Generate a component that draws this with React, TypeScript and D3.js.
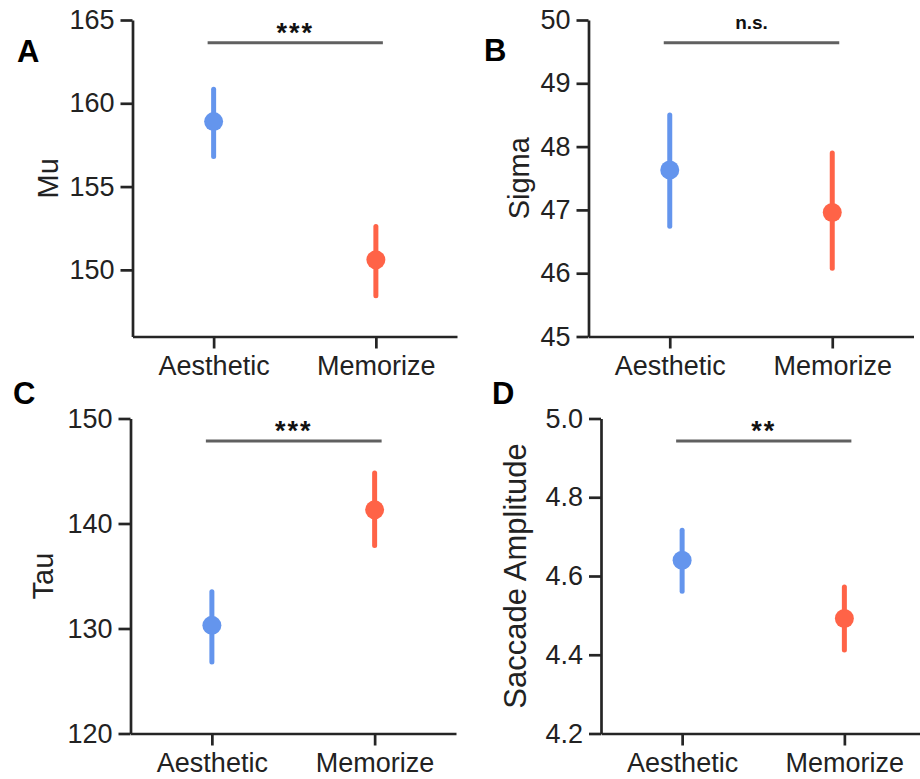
import React, { useEffect, useRef } from 'react';
import { select, scaleLinear, scalePoint, axisLeft, axisBottom, format } from 'd3';

// conditions on the x axis
const categories = ['Aesthetic', 'Memorize'];
const conditionColors = ['#6495ED', '#FF6347'];

// A: Mu
const muMean = [158.9, 150.6];
const muLow = [156.8, 148.45];
const muHigh = [160.85, 152.6];
const muDomain = [146, 165];
const muTicks = [150, 155, 160, 165];

// B: Sigma
const sigmaMean = [47.63, 46.96];
const sigmaLow = [46.74, 46.08];
const sigmaHigh = [48.5, 47.9];
const sigmaDomain = [45, 50];
const sigmaTicks = [45, 46, 47, 48, 49, 50];

// C: Tau
const tauMean = [130.3, 141.3];
const tauLow = [126.8, 137.9];
const tauHigh = [133.5, 144.8];
const tauDomain = [120, 150];
const tauTicks = [120, 130, 140, 150];

// D: Saccade amplitude
const saccMean = [4.64, 4.492];
const saccLow = [4.561, 4.412];
const saccHigh = [4.716, 4.572];
const saccDomain = [4.2, 5.0];
const saccTicks = [4.2, 4.4, 4.6, 4.8, 5.0];

const letters = ['A', 'B', 'C', 'D'];
const yTitles = ['Mu', 'Sigma', 'Tau', 'Saccade Amplitude'];
const sigLabels = ['***', 'n.s.', '***', '**'];
const tickFormats = ['d', 'd', 'd', '.1f'];

const panelData = [
  { mean: muMean, low: muLow, high: muHigh, domain: muDomain, ticks: muTicks },
  { mean: sigmaMean, low: sigmaLow, high: sigmaHigh, domain: sigmaDomain, ticks: sigmaTicks },
  { mean: tauMean, low: tauLow, high: tauHigh, domain: tauDomain, ticks: tauTicks },
  { mean: saccMean, low: saccLow, high: saccHigh, domain: saccDomain, ticks: saccTicks },
];

// layout of the four plots on the page
const layouts = [
  { left: 132.5, top: 20, width: 324.5, height: 316.5, titleGap: 75, titleSize: 29, letterX: 17, letterY: 62 },
  { left: 588.5, top: 20, width: 325, height: 316.5, titleGap: 60, titleSize: 29, letterX: 484, letterY: 61 },
  { left: 130.5, top: 418.5, width: 325.5, height: 315, titleGap: 78, titleSize: 29, letterX: 13, letterY: 404 },
  { left: 601, top: 418.5, width: 324.5, height: 315, titleGap: 75, titleSize: 31, letterX: 492, letterY: 404 },
];

const FONT = '"Liberation Sans", Arial, Helvetica, sans-serif';
const AXIS_COLOR = '#252525';

function Panel({ index }: { index: number }) {
  const gRef = useRef<SVGGElement>(null);
  const d = panelData[index];
  const l = layouts[index];

  useEffect(() => {
    if (!gRef.current) return;
    const g = select(gRef.current);
    g.selectAll('*').remove();

    const x = scalePoint<string>().domain(categories).range([0, l.width]).padding(0.5);
    const y = scaleLinear().domain(d.domain).range([l.height, 0]);

    // error bars and means
    const pts = categories.map((c, i) => ({ c, i, mean: d.mean[i], low: d.low[i], high: d.high[i] }));
    g.selectAll('.err')
      .data(pts)
      .join('line')
      .attr('class', 'err')
      .attr('x1', p => x(p.c)!)
      .attr('x2', p => x(p.c)!)
      .attr('y1', p => y(p.low))
      .attr('y2', p => y(p.high))
      .attr('stroke', p => conditionColors[p.i])
      .attr('stroke-width', 5)
      .attr('stroke-linecap', 'round');
    g.selectAll('.dot')
      .data(pts)
      .join('circle')
      .attr('class', 'dot')
      .attr('cx', p => x(p.c)!)
      .attr('cy', p => y(p.mean))
      .attr('r', 9.5)
      .attr('fill', p => conditionColors[p.i]);

    // significance bar
    const span = d.domain[1] - d.domain[0];
    const barY = y(d.domain[1] - 0.0715 * span);
    const bx0 = x(categories[0])! - 6;
    const bx1 = x(categories[1])! + 7;
    g.append('line')
      .attr('x1', bx0)
      .attr('x2', bx1)
      .attr('y1', barY)
      .attr('y2', barY)
      .attr('stroke', '#606060')
      .attr('stroke-width', 3);
    const sig = sigLabels[index];
    const isStars = sig.startsWith('*');
    g.append('text')
      .attr('x', (bx0 + bx1) / 2)
      .attr('y', isStars ? barY - 1 : barY - 14)
      .attr('text-anchor', 'middle')
      .attr('font-family', FONT)
      .attr('font-weight', 'bold')
      .attr('font-size', isStars ? 27 : 19)
      .attr('letter-spacing', isStars ? 2 : 0)
      .attr('fill', '#111')
      .text(sig);

    // axes
    const yAxis = g.append('g').call(
      axisLeft(y)
        .tickValues(d.ticks)
        .tickFormat(format(tickFormats[index]) as any)
        .tickSize(12)
        .tickSizeOuter(0)
        .tickPadding(6)
    );
    const xAxis = g
      .append('g')
      .attr('transform', `translate(0,${l.height})`)
      .call(axisBottom(x).tickSize(12).tickSizeOuter(0).tickPadding(6));

    [yAxis, xAxis].forEach(a => {
      a.selectAll('path, line').attr('stroke', AXIS_COLOR).attr('stroke-width', 2.7);
      a.selectAll('text')
        .attr('font-family', FONT)
        .attr('font-size', 27)
        .attr('fill', '#222');
    });
    xAxis.selectAll('text').attr('dy', '0.76em');
  }, [index]);

  return (
    <g transform={`translate(${l.left},${l.top})`}>
      <g ref={gRef} />
      <text
        transform={`translate(${-l.titleGap},${l.height / 2}) rotate(-90)`}
        textAnchor="middle"
        fontFamily={FONT}
        fontSize={l.titleSize}
        fill="#222"
      >
        {yTitles[index]}
      </text>
    </g>
  );
}

export default function App() {
  return (
    <svg
      width={920}
      height={779}
      style={{ position: 'absolute', left: 0, top: 0, background: '#fff' }}
    >
      {letters.map((t, i) => (
        <text
          key={t}
          x={layouts[i].letterX}
          y={layouts[i].letterY}
          fontFamily={FONT}
          fontWeight="bold"
          fontSize={31}
          fill="#000"
        >
          {t}
        </text>
      ))}
      {letters.map((t, i) => (
        <Panel key={t} index={i} />
      ))}
    </svg>
  );
}
